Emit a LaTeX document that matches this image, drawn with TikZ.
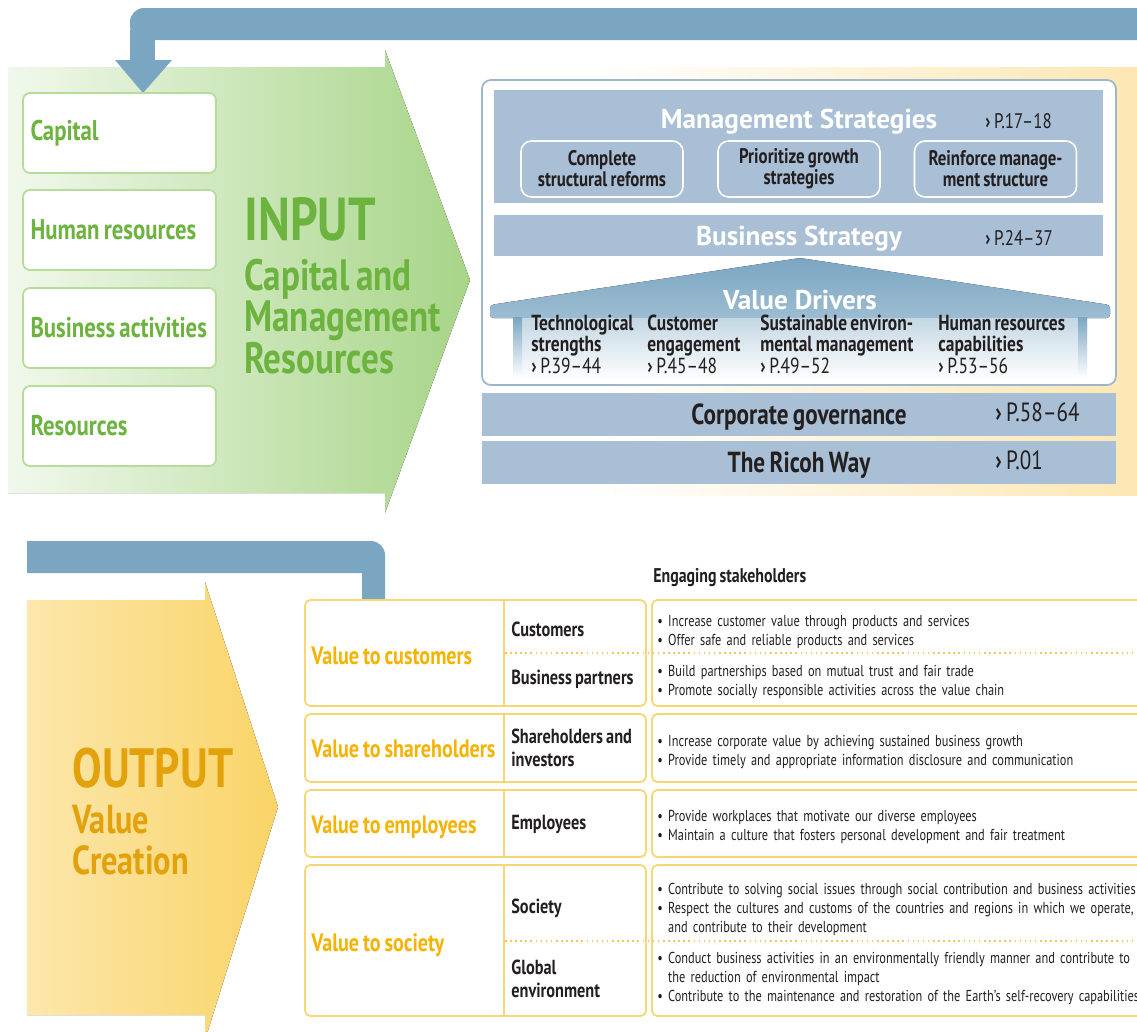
\documentclass[tikz,border=0pt]{standalone}
\usepackage{fontspec}
\setmainfont{PT Sans}
\newfontfamily\condfont{PT Sans}[FakeStretch=0.8, WordSpace=0.75]
\newfontfamily\smallcondfont{PT Sans}[FakeStretch=0.78]
\newcommand{\setfs}[2]{\fontsize{#1}{#2}\selectfont}
\definecolor{feedblue}{HTML}{7BA6C2}
\definecolor{bandblue}{HTML}{A9BFD5}
\definecolor{frameblue}{HTML}{9DB6CC}
\definecolor{ingreen}{HTML}{6CB33F}
\definecolor{inborder}{HTML}{B5DC9B}
\definecolor{greenleft}{HTML}{F1F8EC}
\definecolor{greenright}{HTML}{A7D587}
\definecolor{outgold}{HTML}{E3A20C}
\definecolor{valgold}{HTML}{F5B300}
\definecolor{tabline}{HTML}{F8D673}
\definecolor{yelleft}{HTML}{FCE7AC}
\definecolor{yelright}{HTML}{F9D466}
\definecolor{backyel}{HTML}{FDE7B3}
\definecolor{inktext}{HTML}{231F20}

\begin{document}
\begin{tikzpicture}[x=0.02cm, y=-0.02cm]
\tikzset{
  tightwords/.style={execute at begin node={\spaceskip=0pt\xspaceskip=0pt\relax}},
  inbox/.style={draw=inborder, line width=1pt, fill=white, rounded corners=4pt, minimum width=3.86cm, minimum height=1.6cm, inner xsep=0.15cm, text width=3.56cm, align=left, tightwords, text=ingreen, font=\condfont\bfseries\setfs{16.2}{17}},
  band/.style={fill=bandblue, inner sep=0pt},
  strat/.style={draw=white, line width=0.9pt, fill=bandblue, rounded corners=6pt, minimum width=3.24cm, minimum height=1.12cm, align=center, tightwords, text=inktext, font=\condfont\bfseries\setfs{12}{12}},
  title/.style={text=white, font=\bfseries\setfs{15.5}{18}, anchor=base, inner sep=0pt},
  bandtext/.style={text=inktext, font=\condfont\bfseries\setfs{16.5}{18}, anchor=base, inner sep=0pt},
  pageref/.style={text=inktext, font=\condfont\setfs{12}{14}, anchor=base west, inner sep=0pt},
  bigref/.style={pageref, font=\condfont\setfs{15}{16}},
  driver/.style={anchor=north west, inner sep=0pt, text width=3.4cm, align=left, tightwords, text=inktext, font=\condfont\bfseries\setfs{12.4}{11.7}},
  valbox/.style={draw=tabline, line width=1pt, fill=white, rounded corners=3pt},
  vallabel/.style={anchor=base west, inner sep=0pt, text=valgold, font=\condfont\bfseries\setfs{14.3}{16}},
  holder/.style={anchor=north west, inner sep=0pt, text width=3cm, align=left, tightwords, text=inktext, font=\condfont\bfseries\setfs{11.6}{13}},
  bullets/.style={anchor=north west, inner sep=0pt, text width=12cm, align=left, text=inktext, font=\smallcondfont\setfs{9}{10.8}},
  dotsep/.style={tabline!80!orange, dotted, line width=0.9pt}
}
\useasboundingbox (0,0) rectangle (1137,1032);

\fill[left color=white, right color=backyel] (600,67) rectangle (1137,495);

\fill[left color=greenleft, right color=greenright] (8,67) -- (385,67) -- (385,50) -- (470,280) -- (385,513) -- (385,493) -- (8,493) -- cycle;

\fill[feedblue, rounded corners=8pt] (130,8) rectangle (1160,40);
\fill[feedblue] (130,30) rectangle (155,61);
\fill[feedblue] (115,60) -- (172,60) -- (143,93) -- cycle;

\node[inbox] (cap) at (119.5,133) {Capital};
\node[inbox] (human) at (119.5,230) {Human resources};
\node[inbox] (business) at (119.5,328) {Business activities};
\node[inbox] (resrc) at (119.5,426) {Resources};

\node[anchor=base west, inner sep=0pt, text=ingreen, font=\condfont\bfseries\setfs{34.5}{36}] (input) at (244,240) {INPUT};
\node[anchor=north west, inner sep=0pt, text width=7cm, align=left, tightwords, text=ingreen, font=\condfont\bfseries\setfs{25}{23}] (inputsub) at (244,259) {Capital and\\Management\\Resources};

\node[draw=frameblue, line width=1pt, fill=white, rounded corners=5pt, minimum width=12.68cm, minimum height=6.1cm] (frame) at (799,232.5) {};

\node[band, minimum width=12.18cm, minimum height=2.26cm] (mgmt) at (798.5,146.5) {};
\node[title] (mgmttitle) at (799,128) {Management Strategies};
\node[pageref] (mgmtref) at (985,128) {{\bfseries ›}\,P.17–18};
\node[strat] (reform) at (602,169) {Complete\\structural reforms};
\node[strat] (growth) at (799,169) {Prioritize growth\\strategies};
\node[strat] (structure) at (995.5,169) {Reinforce manage-\\ment structure};

\node[band, minimum width=12.18cm, minimum height=0.82cm] (biz) at (798.5,235.5) {};
\node[title] (biztitle) at (799,245) {Business Strategy};
\node[pageref] (bizref) at (985,245) {{\bfseries ›}\,P.24–37};

\fill[top color=feedblue, bottom color=feedblue!75!white, rounded corners=2pt] (490,305) -- (800,258) -- (1110,305) -- (1110,318) -- (490,318) -- cycle;
\fill[top color=feedblue!45!white, bottom color=white] (513,318) rectangle (1087,380);
\fill[top color=feedblue, bottom color=white] (513,317) rectangle (522,378);
\fill[top color=feedblue, bottom color=white] (1078,317) rectangle (1087,378);
\node[title] (drivers) at (800,309) {Value Drivers};

\node[driver] (tech) at (531,315) {Technological\\strengths\\[1pt]{\mdseries {\bfseries ›}\,P.39–44}};
\node[driver] (engage) at (647,315) {Customer\\engagement\\[1pt]{\mdseries {\bfseries ›}\,P.45–48}};
\node[driver] (enviro) at (760,315) {Sustainable environ-\\mental management\\[1pt]{\mdseries {\bfseries ›}\,P.49–52}};
\node[driver] (people) at (938,315) {Human resources\\capabilities\\[1pt]{\mdseries {\bfseries ›}\,P.53–56}};

\node[band, minimum width=12.68cm, minimum height=0.86cm] (gov) at (799,414.5) {};
\node[bandtext] (govtext) at (799,424) {Corporate governance};
\node[bigref] (govref) at (995,421) {{\bfseries ›}\,P.58–64};
\node[band, minimum width=12.68cm, minimum height=0.86cm] (way) at (799,462.5) {};
\node[bandtext] (waytext) at (799,472) {The Ricoh Way};
\node[bigref] (wayref) at (995,469) {{\bfseries ›}\,P.01};

\fill[feedblue] (27,541) [rounded corners=8pt] -- (385,541) -- (385,620) [sharp corners] -- (362,620) -- (362,573) -- (27,573) -- cycle;
\fill[feedblue] (27,541) rectangle (60,573);

\fill[left color=yelleft, right color=yelright] (27,600) -- (205,600) -- (205,582) -- (278,807) -- (205,1040) -- (205,1015) -- (27,1015) -- cycle;
\node[anchor=base west, inner sep=0pt, text=outgold, font=\condfont\bfseries\setfs{31.5}{32}] (output) at (72,787) {OUTPUT};
\node[anchor=north west, inner sep=0pt, text width=5cm, align=left, text=outgold, font=\condfont\bfseries\setfs{23}{23}] (outputsub) at (72,805) {Value\\Creation};

\node[anchor=base west, inner sep=0pt, text=inktext, font=\condfont\bfseries\setfs{11.3}{13}] (engaging) at (653,582) {Engaging stakeholders};

\node[valbox, minimum width=6.82cm, minimum height=2.12cm] (rowcust) at (475.5,653) {};
\node[valbox, minimum width=6.82cm, minimum height=1.36cm] (rowshare) at (475.5,748) {};
\node[valbox, minimum width=6.82cm, minimum height=1.34cm] (rowemp) at (475.5,823.5) {};
\node[valbox, minimum width=6.82cm, minimum height=3.02cm] (rowsoc) at (475.5,940.5) {};
\node[valbox, minimum width=9.86cm, minimum height=2.12cm] (bulcust) at (898.5,653) {};
\node[valbox, minimum width=9.86cm, minimum height=1.36cm] (bulshare) at (898.5,748) {};
\node[valbox, minimum width=9.86cm, minimum height=1.34cm] (bulemp) at (898.5,823.5) {};
\node[valbox, minimum width=9.86cm, minimum height=3.02cm] (bulsoc) at (898.5,940.5) {};

\draw[tabline, line width=1pt] (504,600) -- (504,706);
\draw[tabline, line width=1pt] (504,714) -- (504,782);
\draw[tabline, line width=1pt] (504,790) -- (504,857);
\draw[tabline, line width=1pt] (504,865) -- (504,1016);
\draw[dotsep] (505,653) -- (1145,653);
\draw[dotsep] (505,941) -- (1145,941);

\node[vallabel] (valcust) at (311,664) {Value to customers};
\node[vallabel] (valshare) at (311,757) {Value to shareholders};
\node[vallabel] (valemp) at (311,833) {Value to employees};
\node[vallabel] (valsoc) at (311,951) {Value to society};

\node[holder] (skcust) at (511,622) {Customers};
\node[holder] (skpartner) at (511,670) {Business partners};
\node[holder] (skshare) at (511,729) {Shareholders and\\investors};
\node[holder] (skemp) at (511,815) {Employees};
\node[holder] (sksoc) at (511,899) {Society};
\node[holder] (skglobal) at (511,960) {Global\\environment};

\node[bullets] (bcust) at (657,615) {• Increase customer value through products and services\\• Offer safe and reliable products and services};
\node[bullets] (bpartner) at (657,665) {• Build partnerships based on mutual trust and fair trade\\• Promote socially responsible activities across the value chain};
\node[bullets] (bshare) at (657,735) {• Increase corporate value by achieving sustained business growth\\• Provide timely and appropriate information disclosure and communication};
\node[bullets] (bemp) at (657,810) {• Provide workplaces that motivate our diverse employees\\• Maintain a culture that fosters personal development and fair treatment};
\node[bullets] (bsoc) at (657,883) {• Contribute to solving social issues through social contribution and business activities\\• Respect the cultures and customs of the countries and regions in which we operate,\\\hphantom{•\ }and contribute to their development};
\node[bullets] (bglobal) at (657,952) {• Conduct business activities in an environmentally friendly manner and contribute to\\\hphantom{•\ }the reduction of environmental impact\\• Contribute to the maintenance and restoration of the Earth’s self-recovery capabilities};
\end{tikzpicture}
\end{document}
